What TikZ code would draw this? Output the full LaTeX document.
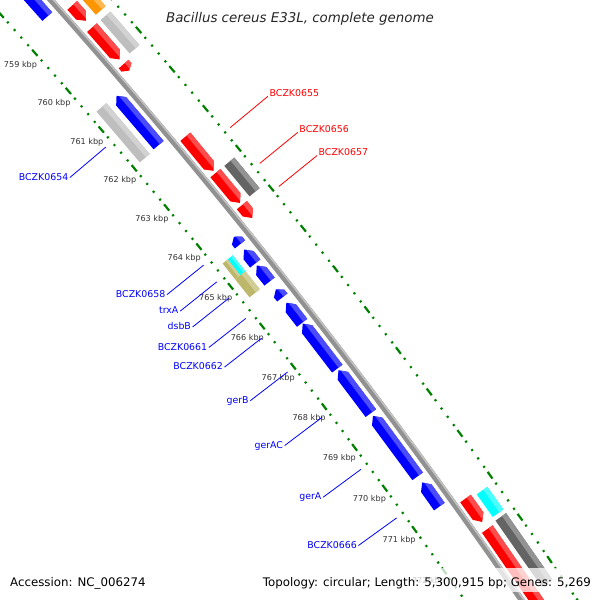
\documentclass[tikz,border=0pt]{standalone}
\usepackage{fontspec}
\setmainfont{DejaVu Sans}
\definecolor{mapred}{RGB}{255,0,0}
\definecolor{mapblue}{RGB}{0,0,255}
\definecolor{mapdark}{RGB}{100,100,100}
\definecolor{maplight}{RGB}{190,190,190}
\definecolor{maporange}{RGB}{255,150,0}
\definecolor{mapcyan}{RGB}{0,255,255}
\definecolor{maptan}{RGB}{189,183,107}
\definecolor{maptick}{RGB}{0,128,0}
\definecolor{mapbone}{RGB}{145,145,145}
\definecolor{maptext}{RGB}{50,50,50}

% one feature: #1 from kbp, #2 to kbp, #3/#4 inner/outer radius, #5 colour, #6 0 box, 1 forward, 2 reverse
\newcommand{\mapfeat}[6]{%
  \pgfmathsetmacro{\aS}{ang(#1)}%
  \pgfmathsetmacro{\aE}{ang(#2)}%
  \pgfmathsetmacro{\aP}{ang(#1+min(0.14,(#2-#1)/2))}%
  \pgfmathsetmacro{\aQ}{ang(#2-min(0.14,(#2-#1)/2))}%
  \pgfmathsetmacro{\bS}{\aS+0.05}%
  \pgfmathsetmacro{\bE}{\aE-0.05}%
  \pgfmathsetmacro{\rM}{(#3+#4)/2}%
  \pgfmathsetmacro{\rH}{#4-0.38*(#4-#3)}%
  \pgfmathsetmacro{\rT}{#4+2}%
  \ifcase#6
    \def\featpath{(\aS:#3) -- (\aS:#4) -- (\aE:#4) -- (\aE:#3) -- cycle}%
  \or
    \def\featpath{(\aS:#3) -- (\aS:#4) -- (\aQ:#4) -- (\aE:\rM) -- (\aQ:#3) -- cycle}%
  \or
    \def\featpath{(\aS:\rM) -- (\aP:#4) -- (\aE:#4) -- (\aE:#3) -- (\aP:#3) -- cycle}%
  \fi
  \fill[#5] \featpath;
  \begin{scope}
    \clip \featpath;
    \fill[#5!70!white] (\bS:\rH) -- (\bS:\rT) -- (\bE:\rT) -- (\bE:\rH) -- cycle;
  \end{scope}%
}

\begin{document}
\begin{tikzpicture}[x=1pt, y=1pt,
  declare function={ang(\k)=45.731-0.479*(\k-750);},
  every node/.style={font=\fontsize{9.4}{11}\selectfont},
  bone/.style={mapbone, line width=6pt},
  tickln/.style={maptick, line width=2.2pt},
  klab/.style={font=\fontsize{8.1}{10}\selectfont, text=maptext, inner sep=0pt},
  glab/.style={inner sep=1.5pt},
  glink/.style={line width=0.8pt},
  note/.style={font=\fontsize{11.8}{14}\selectfont, inner sep=0pt}
]
\useasboundingbox (0,0) rectangle (600,600);
\fill[white] (0,0) rectangle (600,600);
\clip (0,0) rectangle (600,600);

\begin{scope}[shift={(-4522,-3473)}]
  % tick rings, a dot every 200 bp and a dash every kbp
  \foreach \i in {0,...,95} {
    \pgfmathsetmacro{\tk}{756+\i/5}
    \pgfmathsetmacro{\hw}{mod(\i,5)==0 ? 0.08 : 0.02}
    \pgfmathsetmacro{\ta}{ang(\tk-\hw)}
    \pgfmathsetmacro{\tb}{ang(\tk+\hw)}
    \draw[tickln] (\ta:6077) -- (\tb:6077);
    \draw[tickln] (\ta:6170) -- (\tb:6170);
  }
  \foreach \k in {759,...,772}
    \node[klab] (k\k) at ({ang(\k)}:6058) {\k\ kbp};

  % backbone
  \pgfmathsetmacro{\bA}{ang(756)}
  \pgfmathsetmacro{\bB}{ang(775)}
  \draw[bone] (\bA:6124) arc[start angle=\bA, end angle=\bB, radius=6124];
  \draw[mapbone!55!white, line width=1.6pt] (\bA:6126) arc[start angle=\bA, end angle=\bB, radius=6126];

  % inner tracks
  \mapfeat{757.3}{758.63}{6104}{6117}{mapblue}{2}
  \mapfeat{760.69}{761.96}{6104}{6117}{mapblue}{2}
  \mapfeat{760.67}{761.98}{6085}{6098}{maplight}{0}
  \mapfeat{764.28}{764.47}{6104}{6117}{mapblue}{2}
  \mapfeat{764.60}{764.95}{6104}{6117}{mapblue}{2}
  \mapfeat{764.55}{764.95}{6091.5}{6098}{mapcyan}{0}
  \mapfeat{764.55}{764.95}{6085}{6091.5}{maptan}{0}
  \mapfeat{764.95}{765.40}{6085}{6098}{maptan}{0}
  \mapfeat{765.00}{765.40}{6104}{6117}{mapblue}{2}
  \mapfeat{765.60}{765.80}{6104}{6117}{mapblue}{2}
  \mapfeat{765.93}{766.43}{6104}{6117}{mapblue}{2}
  \mapfeat{766.45}{767.56}{6104}{6117}{mapblue}{2}
  \mapfeat{767.60}{768.65}{6104}{6117}{mapblue}{2}
  \mapfeat{768.72}{770.19}{6104}{6117}{mapblue}{2}
  \mapfeat{770.34}{770.92}{6104}{6117}{mapblue}{2}

  % outer tracks
  \mapfeat{757.8}{759.23}{6148}{6161}{maporange}{0}
  \mapfeat{758.79}{759.19}{6130}{6143}{mapred}{1}
  \mapfeat{759.37}{760.23}{6148}{6161}{maplight}{0}
  \mapfeat{759.37}{760.19}{6130}{6143}{mapred}{1}
  \mapfeat{760.31}{760.48}{6130}{6143}{mapred}{1}
  \mapfeat{762.17}{763.03}{6130}{6143}{mapred}{1}
  \mapfeat{763.09}{763.84}{6130}{6143}{mapred}{1}
  \mapfeat{763.09}{763.86}{6148}{6161}{mapdark}{0}
  \mapfeat{763.90}{764.22}{6130}{6143}{mapred}{1}
  \mapfeat{771.15}{771.69}{6148}{6161}{mapcyan}{0}
  \mapfeat{771.09}{771.65}{6130}{6143}{mapred}{1}
  \mapfeat{771.78}{773.35}{6148}{6161}{mapdark}{0}
  \mapfeat{771.82}{775.0}{6130}{6143}{mapred}{1}

  % gene labels, outside
  \foreach \k/\g in {762.59/BCZK0655, 763.49/BCZK0656, 764.07/BCZK0657} {
    \coordinate (f\g) at ({ang(\k)}:6177);
    \node[glab, text=mapred, anchor=base west] (l\g) at ({ang(\k)}:6226) {\g};
    \draw[glink, mapred] (f\g) -- (l\g.base west);
  }
  % gene labels, inside
  \foreach \k/\g in {761.32/BCZK0654, 764.34/BCZK0658, 764.76/trxA, 765.16/dsbB,
                     765.68/BCZK0661, 766.18/BCZK0662, 767.02/gerB, 768.14/gerAC,
                     769.42/gerA, 770.61/BCZK0666} {
    \coordinate (f\g) at ({ang(\k)}:6069);
    \node[glab, text=mapblue, anchor=mid east] (l\g) at ({ang(\k)}:6022) {\g};
    \draw[glink, mapblue] (f\g) -- (l\g.mid east);
  }
\end{scope}

\node[font=\fontsize{13.4}{16}\selectfont\itshape, text=black!85, anchor=base] (title) at (300,577.5)
  {Bacillus cereus E33L, complete genome};
\fill[white, opacity=0.75] (0,8) rectangle (600,32);
\node[note, anchor=base west] (acc) at (10,13) {Accession: NC\_006274};
\node[note, anchor=base east] (topo) at (591,13) {Topology: circular; Length: 5,300,915 bp; Genes: 5,269};
\end{tikzpicture}
\end{document}
